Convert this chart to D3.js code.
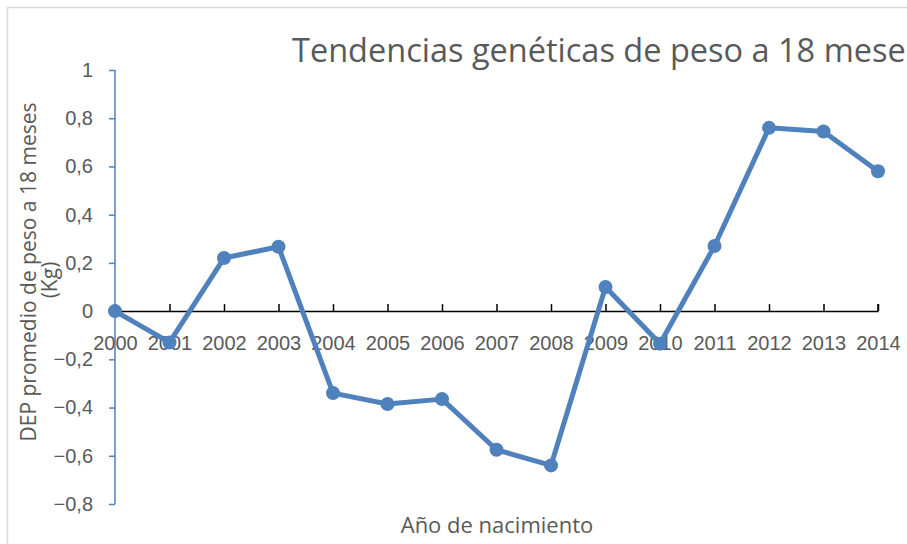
<!DOCTYPE html>
<html>
<head>
<meta charset="utf-8">
<script src="https://cdn.jsdelivr.net/npm/d3@7"></script>
<style>
  body { margin: 0; background: #fff; }
  svg { display: block; font-family: 'Open Sans', sans-serif; }
</style>
</head>
<body>
<div id="chart"></div>
<script>
var years = [2000, 2001, 2002, 2003, 2004, 2005, 2006, 2007, 2008, 2009, 2010, 2011, 2012, 2013, 2014]
var dep = [0, -0.13, 0.22, 0.267, -0.34, -0.385, -0.365, -0.575, -0.64, 0.1, -0.135, 0.27, 0.76, 0.745, 0.58]
var yTicks = [-0.8, -0.6, -0.4, -0.2, 0, 0.2, 0.4, 0.6, 0.8, 1]

var width = 907, height = 544,
    plot = {left: 115, right: 878, top: 70, bottom: 504},
    blue = '#4f81bd', grey = '#595959'

var svg = d3.select('#chart').append('svg')
    .attr('width', width)
    .attr('height', height)

// chart frame (extends past the window on the right)
svg.append('rect')
    .attr('x', 7.5).attr('y', 7.5)
    .attr('width', 1000).attr('height', 1000)
    .attr('fill', 'none')
    .attr('stroke', '#d9d9d9')
    .attr('stroke-width', 1.5)

var x = d3.scalePoint()
    .domain(years)
    .range([plot.left, plot.right])

var y = d3.scaleLinear()
    .domain([-0.8, 1])
    .range([plot.bottom, plot.top])

var fmt = function(d) { return d3.format('')(+d.toFixed(1)).replace('.', ',') }

// y axis
var yAxis = svg.append('g')
    .attr('transform', 'translate(' + plot.left + ',0)')
    .call(d3.axisLeft(y).tickValues(yTicks).tickFormat(fmt).tickSize(6).tickPadding(16))
yAxis.select('.domain').attr('stroke', blue).attr('stroke-width', 1.5)
    .attr('d', 'M0,' + y(1) + 'V' + y(-0.8))
yAxis.selectAll('.tick line').attr('stroke', blue).attr('stroke-width', 1.5)
yAxis.selectAll('.tick text').attr('fill', grey).style('font-size', '20px')

// x axis at zero
var xAxis = svg.append('g')
    .attr('transform', 'translate(0,' + y(0) + ')')
    .call(d3.axisBottom(x).tickSize(-7).tickSizeOuter(0).tickPadding(0))
xAxis.select('.domain').attr('stroke', '#000').attr('stroke-width', 1.5)
xAxis.selectAll('.tick line').attr('stroke', '#000').attr('stroke-width', 1.5)
xAxis.selectAll('.tick text').attr('fill', grey).style('font-size', '20px')
    .attr('y', 39).attr('dy', 0)
// end tick at 2014 side
xAxis.append('line')
    .attr('x1', plot.right).attr('x2', plot.right)
    .attr('y1', 0).attr('y2', -7)
    .attr('stroke', '#000').attr('stroke-width', 1.5)

// series
var line = d3.line()
    .x(function(d, i) { return x(years[i]) })
    .y(function(d) { return y(d) })

svg.append('path')
    .datum(dep)
    .attr('d', line)
    .attr('fill', 'none')
    .attr('stroke', blue)
    .attr('stroke-width', 5)
    .attr('stroke-linejoin', 'round')

svg.selectAll('circle.pt')
    .data(dep)
    .enter().append('circle')
    .attr('class', 'pt')
    .attr('cx', function(d, i) { return x(years[i]) })
    .attr('cy', function(d) { return y(d) })
    .attr('r', 7)
    .attr('fill', blue)

// titles (the title runs past the right edge, as in the original)
svg.append('text')
    .attr('x', 292).attr('y', 62)
    .attr('fill', grey)
    .style('font-size', '32.5px')
    .text('Tendencias genéticas de peso a 18 meses')

svg.append('text')
    .attr('x', 497).attr('y', 533)
    .attr('text-anchor', 'middle')
    .attr('fill', grey)
    .style('font-size', '22px')
    .text('Año de nacimiento')

var yTitle = svg.append('text')
    .attr('transform', 'translate(36,272) rotate(-90)')
    .attr('text-anchor', 'middle')
    .attr('fill', grey)
    .style('font-size', '21px')
yTitle.append('tspan').attr('x', 0).attr('y', 0).text('DEP promedio de peso a 18 meses')
yTitle.append('tspan').attr('x', -8).attr('y', 21).text('(Kg)')
</script>
</body>
</html>
